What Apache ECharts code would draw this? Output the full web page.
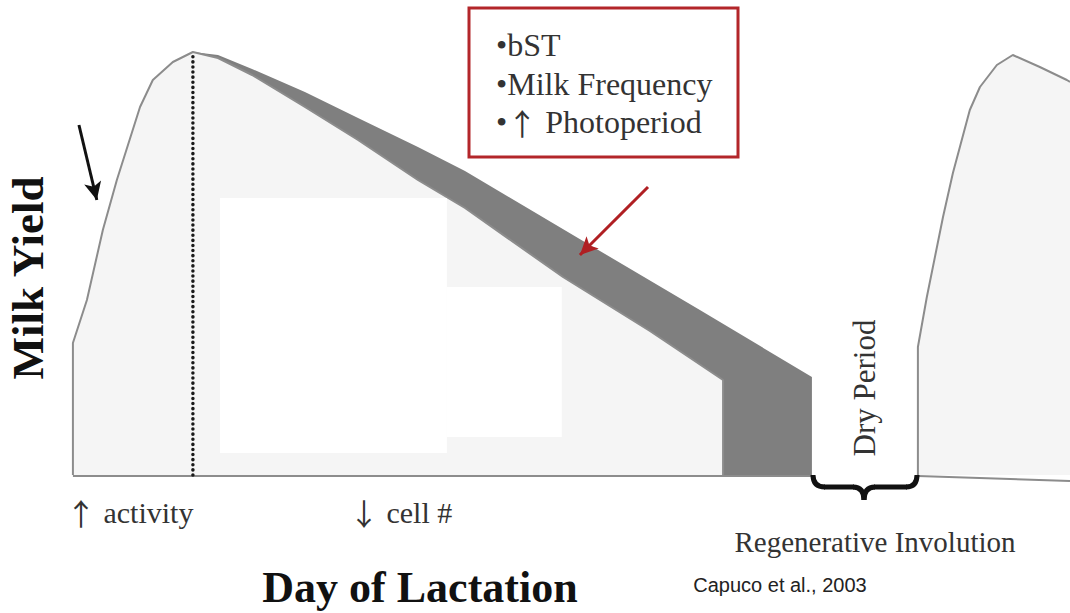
<!DOCTYPE html>
<html>
<head>
<meta charset="utf-8">
<script src="https://cdn.jsdelivr.net/npm/echarts@6/dist/echarts.min.js"></script>
<style>
html,body{margin:0;padding:0;background:#fff;}
#chart{width:1070px;height:613px;}
</style>
</head>
<body>
<div id="chart"></div>
<script>
// ---- Data (x = day of lactation, y = milk yield, arbitrary units) ----
const peakDay = 49.7;
const peakYield = 42.3;
// rising phase of lactation, day 0 to peak
const risingCurve = [[0, 0], [0, 13.2], [5.8, 17.5], [12.4, 24.5], [18.2, 29.5], [27.8, 36.8], [33.1, 39.5], [41.4, 41.3], [peakDay, peakYield]];
// normal (untreated) decline after peak
const untreatedDecline = [[60.1, 41.7], [74.2, 40.0], [96.1, 36.8], [118.1, 33.5], [142.9, 29.5], [162.4, 26.7], [203.0, 19.8], [239.0, 14.4], [269.3, 9.5], [269.3, 0]];
// improved persistency (bST, milking frequency, photoperiod)
const treatedDecline = [[peakDay, peakYield], [60.1, 42.0], [74.2, 40.6], [96.1, 38.3], [118.1, 35.7], [142.9, 32.8], [162.4, 30.4], [211.3, 23.4], [259.7, 16.5], [306.1, 9.8], [306.1, 0]];
// next lactation after the dry period
const nextLactation = [[350.0, -0.1], [350.0, 12.8], [353.7, 17.8], [360.4, 25.8], [364.5, 30.2], [371.5, 36.5], [375.7, 38.8], [382.7, 41.0], [389.3, 42.0], [400.5, 40.8], [411.7, 39.5], [413, 39.3]];
const dryStart = 306.1, dryEnd = 350.0;
const legendItems = ['•bST', '•Milk Frequency', '•{a|↑} Photoperiod'];

const chart = echarts.init(document.getElementById('chart'), null, {renderer: 'svg'});
const grey = '#8c8c8c';
const light = '#f5f5f5';
const serif = '"Liberation Serif", "DejaVu Serif", serif';
const arrowRich = {a: {fontFamily: '"Noto Sans CJK JP"', fontSize: 30, fill: '#333'}};

function label(x, y, text, size, extra) {
  return {
    type: 'text', z: 101, x: x, y: y,
    style: Object.assign({text: text, fontFamily: serif, fontSize: size, fill: '#333', textVerticalAlign: 'middle', rich: arrowRich}, extra || {})
  };
}

const option = {
  backgroundColor: '#ffffff',
  animation: false,
  grid: {left: 0, right: 0, top: 0, bottom: 0},
  xAxis: {type: 'value', min: -30.2, max: 413, show: false},
  yAxis: {type: 'value', min: -13.8, max: 47.5, show: false},
  series: [
    {
      name: 'treated', type: 'line', z: 2, showSymbol: false, silent: true,
      data: treatedDecline,
      lineStyle: {width: 0},
      areaStyle: {color: '#7f7f7f', opacity: 1}
    },
    {
      name: 'untreated', type: 'line', z: 3, showSymbol: false, silent: true,
      data: risingCurve.concat(untreatedDecline),
      lineStyle: {width: 2, color: grey},
      areaStyle: {color: light, opacity: 1}
    },
    {
      name: 'patches', type: 'line', z: 4, showSymbol: false, silent: true, data: [],
      markArea: {
        silent: true, z: 4,
        itemStyle: {color: '#ffffff'},
        data: [
          [{coord: [60.9, 27.7]}, {coord: [154.9, 2.2]}],
          [{coord: [154.9, 18.8]}, {coord: [202.5, 3.8]}]
        ]
      }
    },
    {
      name: 'next', type: 'line', z: 3, showSymbol: false, silent: true,
      data: nextLactation,
      lineStyle: {width: 2, color: grey},
      areaStyle: {color: light, opacity: 1}
    },
    {
      name: 'baseline', type: 'line', z: 5, showSymbol: false, silent: true,
      data: [[0, -0.1], [dryStart, -0.1]],
      lineStyle: {width: 2, color: grey}
    },
    {
      name: 'baseline2', type: 'line', z: 5, showSymbol: false, silent: true,
      data: [[dryEnd, -0.1], [413, -0.6]],
      lineStyle: {width: 2, color: grey}
    },
    {
      name: 'peak', type: 'line', z: 6, showSymbol: false, silent: true,
      data: [[peakDay, 0], [peakDay, peakYield]],
      lineStyle: {width: 3.5, color: '#1a1a1a', type: [0.1, 5], cap: 'round'},
      markLine: {
        silent: true, symbol: ['none', 'arrow'], symbolSize: [13, 18],
        label: {show: false},
        data: [
          [{coord: [238.2, 28.8], lineStyle: {color: '#b01f23', width: 3, type: 'solid', cap: 'butt'}}, {coord: [210.0, 22.0]}],
          [{coord: [2.5, 35.0], lineStyle: {color: '#111', width: 3, type: 'solid', cap: 'butt'}}, {coord: [9.9, 27.5]}]
        ]
      }
    }
  ],
  graphic: [
    {type: 'rect', z: 100, shape: {x: 469, y: 8, width: 269, height: 149}, style: {fill: '#fff', stroke: '#b3262a', lineWidth: 3}},
    label(496, 45, legendItems[0], 32),
    label(496, 84, legendItems[1], 32),
    label(496, 122, legendItems[2], 32),
    label(28, 278, 'Milk Yield', 45, {fontWeight: 'bold', fill: '#111', textAlign: 'center'}),
    label(420, 587, 'Day of Lactation', 44, {fontWeight: 'bold', fill: '#111', textAlign: 'center'}),
    label(66, 512, '{a|↑} activity', 30),
    label(349, 512, '{a|↓} cell #', 30),
    label(875, 542, 'Regenerative Involution', 29, {textAlign: 'center'}),
    label(780, 585, 'Capuco et al., 2003', 20, {fontFamily: '"Liberation Sans", Arial, sans-serif', fill: '#222', textAlign: 'center'}),
    label(864, 388, 'Dry Period', 31, {textAlign: 'center'}),
    {type: 'bezierCurve', z: 101, shape: {x1: 813, y1: 475, cpx1: 813, cpy1: 487, x2: 825, y2: 487}, style: {fill: 'none', stroke: '#111', lineWidth: 5}},
    {type: 'line', z: 101, shape: {x1: 824, y1: 487, x2: 854, y2: 487}, style: {stroke: '#111', lineWidth: 5}},
    {type: 'bezierCurve', z: 101, shape: {x1: 853, y1: 487, cpx1: 864, cpy1: 487, x2: 864, y2: 500}, style: {fill: 'none', stroke: '#111', lineWidth: 5}},
    {type: 'bezierCurve', z: 101, shape: {x1: 864, y1: 500, cpx1: 864, cpy1: 487, x2: 875, y2: 487}, style: {fill: 'none', stroke: '#111', lineWidth: 5}},
    {type: 'line', z: 101, shape: {x1: 874, y1: 487, x2: 907, y2: 487}, style: {stroke: '#111', lineWidth: 5}},
    {type: 'bezierCurve', z: 101, shape: {x1: 906, y1: 487, cpx1: 917, cpy1: 487, x2: 917, y2: 475}, style: {fill: 'none', stroke: '#111', lineWidth: 5}}
  ]
};
option.graphic[4].rotation = Math.PI / 2;
option.graphic[10].rotation = Math.PI / 2;
chart.setOption(option);
</script>
</body>
</html>
